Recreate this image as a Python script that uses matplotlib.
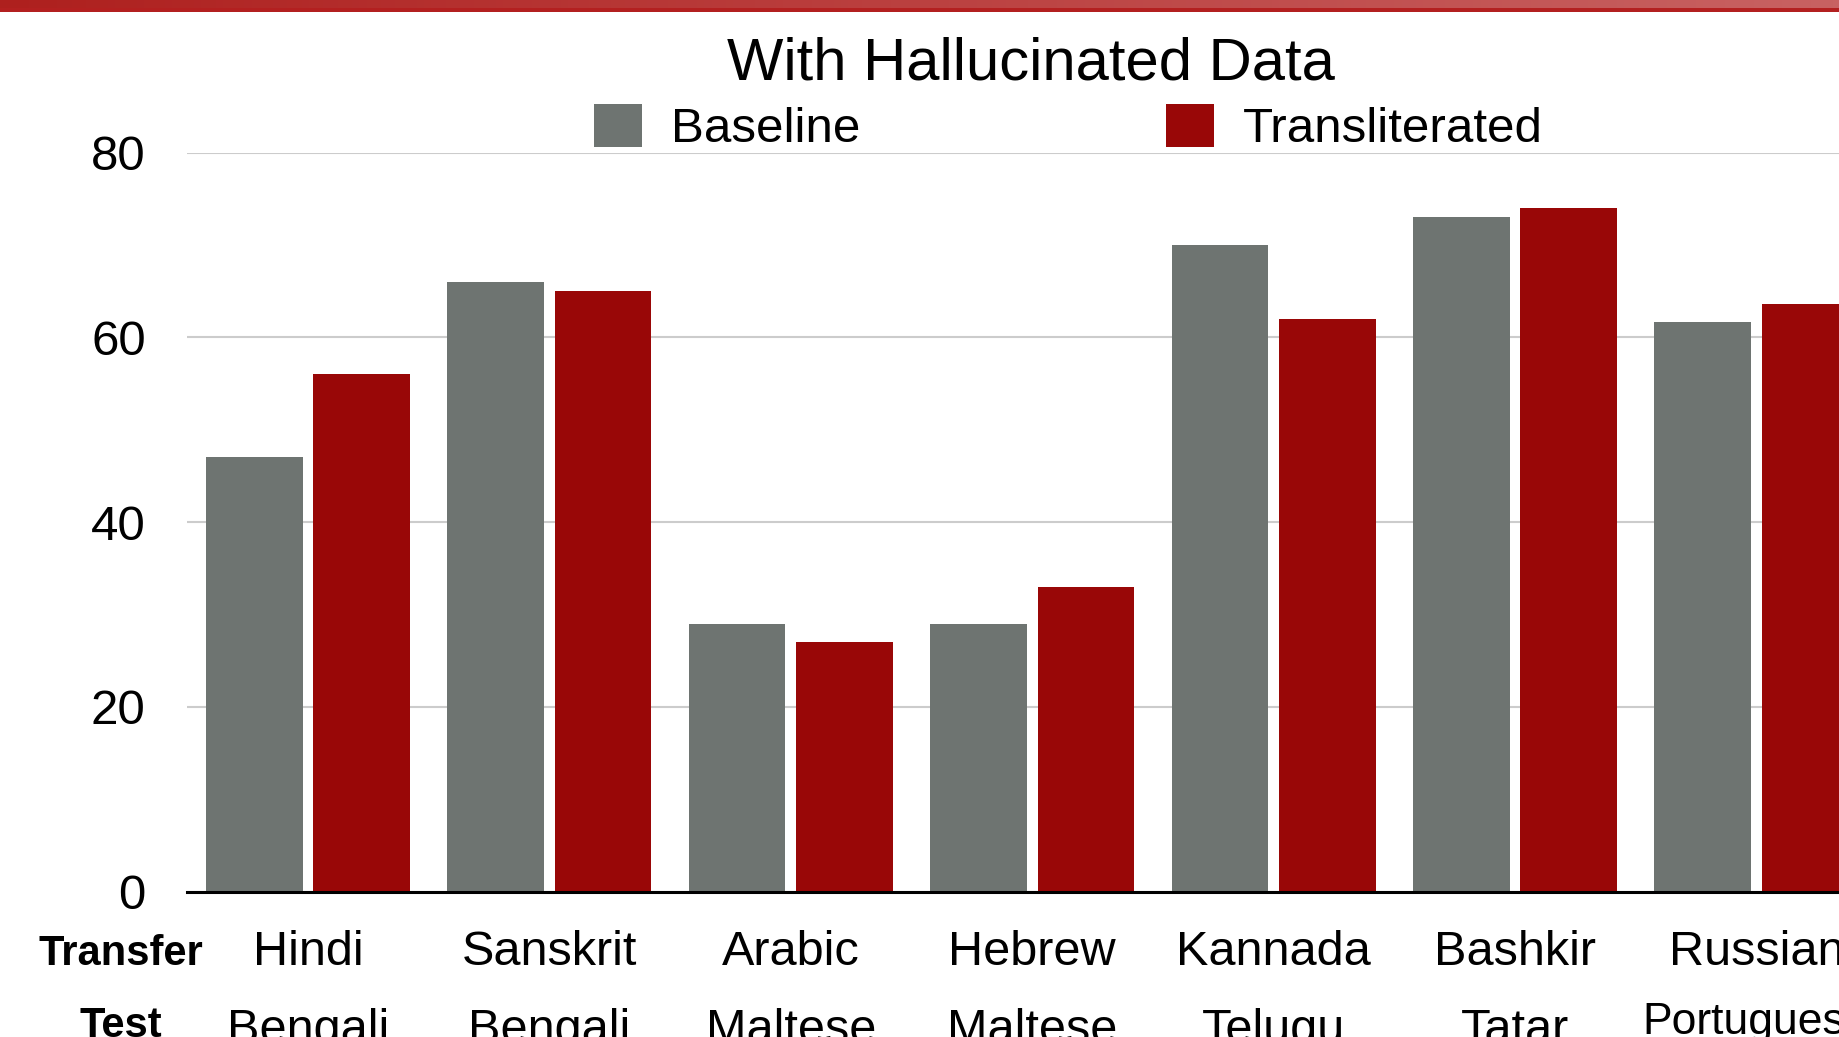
import numpy as np
import matplotlib
matplotlib.use('Agg')
import matplotlib.pyplot as plt
from matplotlib.colors import LinearSegmentedColormap
from matplotlib.patches import Patch
from matplotlib.transforms import blended_transform_factory

plt.rcParams['font.family'] = ['Liberation Sans', 'DejaVu Sans']

# scores per transfer/test language pair
transfer_langs = ['Hindi', 'Sanskrit', 'Arabic', 'Hebrew', 'Kannada', 'Bashkir', 'Russian']
test_langs = ['Bengali', 'Bengali', 'Maltese', 'Maltese', 'Telugu', 'Tatar', 'Portuguese']
baseline = [47, 66, 29, 29, 70, 73, 61.6]
transliterated = [56, 65, 27, 33, 62, 74, 63.6]

gray = '#6e7471'
red = '#990707'

W, H = 1840, 1037
fig = plt.figure(figsize=(W / 100, H / 100), dpi=100)

# red header strip along the top edge
band = fig.add_axes([0, 1 - 8 / H, 1, 8 / H])
cmap = LinearSegmentedColormap.from_list('hdr', ['#ae201e', '#c86262'])
band.imshow(np.linspace(0, 1, 256).reshape(1, -1), aspect='auto', cmap=cmap, extent=[0, 1, 0, 1])
band.axis('off')
line = fig.add_axes([0, 1 - 12 / H, 1, 4 / H])
line.set_facecolor('#b32020')
line.set_xticks([])
line.set_yticks([])
for s in line.spines.values():
    s.set_visible(False)

step = 241.4  # pixels between group centres
ax = fig.add_axes([(308 - step / 2) / W, 1 - 891.5 / H, 1 - (308 - step / 2) / W, (891.5 - 152.5) / H])
x = np.arange(len(transfer_langs))
ax.bar(x - 0.2225, baseline, width=0.4, color=gray, zorder=2)
ax.bar(x + 0.2225, transliterated, width=0.4, color=red, zorder=2)

ax.set_xlim(-0.5, (W - 308) / step)
ax.set_ylim(0, 80)
ax.set_yticks([0, 20, 40, 60, 80])
ax.yaxis.grid(True, color='#cccccc', linewidth=1.5, zorder=0)
ax.tick_params(axis='y', length=0, labelsize=35.5, pad=30)
ax.set_xticks([])
for s in ['top', 'right', 'left']:
    ax.spines[s].set_visible(False)
ax.spines['bottom'].set_linewidth(2.2)
ax.spines['bottom'].set_zorder(3)

# two rows of category labels under the bars
tr = blended_transform_factory(ax.transData, fig.transFigure)
for i in range(len(transfer_langs)):
    ax.text(x[i], 1 - 965 / H, transfer_langs[i], transform=tr, ha='center',
            va='baseline', fontsize=35, clip_on=False)
    if len(test_langs[i]) > 8:
        ax.text(x[i], 1 - 1034 / H, test_langs[i], transform=tr, ha='center',
                va='baseline', fontsize=32, clip_on=False)
    else:
        ax.text(x[i], 1 - 1043 / H, test_langs[i], transform=tr, ha='center',
                va='baseline', fontsize=35, clip_on=False)
fig.text(121 / W, 1 - 965 / H, 'Transfer', ha='center', va='baseline',
         fontsize=30, fontweight='bold')
fig.text(121 / W, 1 - 1037 / H, 'Test', ha='center', va='baseline',
         fontsize=30, fontweight='bold')

fig.text(1031 / W, 1 - 80 / H, 'With Hallucinated Data', ha='center',
         va='baseline', fontsize=43)

handles = [Patch(facecolor=gray), Patch(facecolor=red)]
fig.legend(handles, ['Baseline', 'Transliterated'], ncol=2, loc='upper left',
           bbox_to_anchor=(594 / W, 1 - 104 / H), frameon=False, fontsize=35.5,
           handlelength=0.98, handleheight=0.95, handletextpad=0.58,
           columnspacing=6.2, borderpad=0, borderaxespad=0)

fig.savefig('out.png', dpi=100)
